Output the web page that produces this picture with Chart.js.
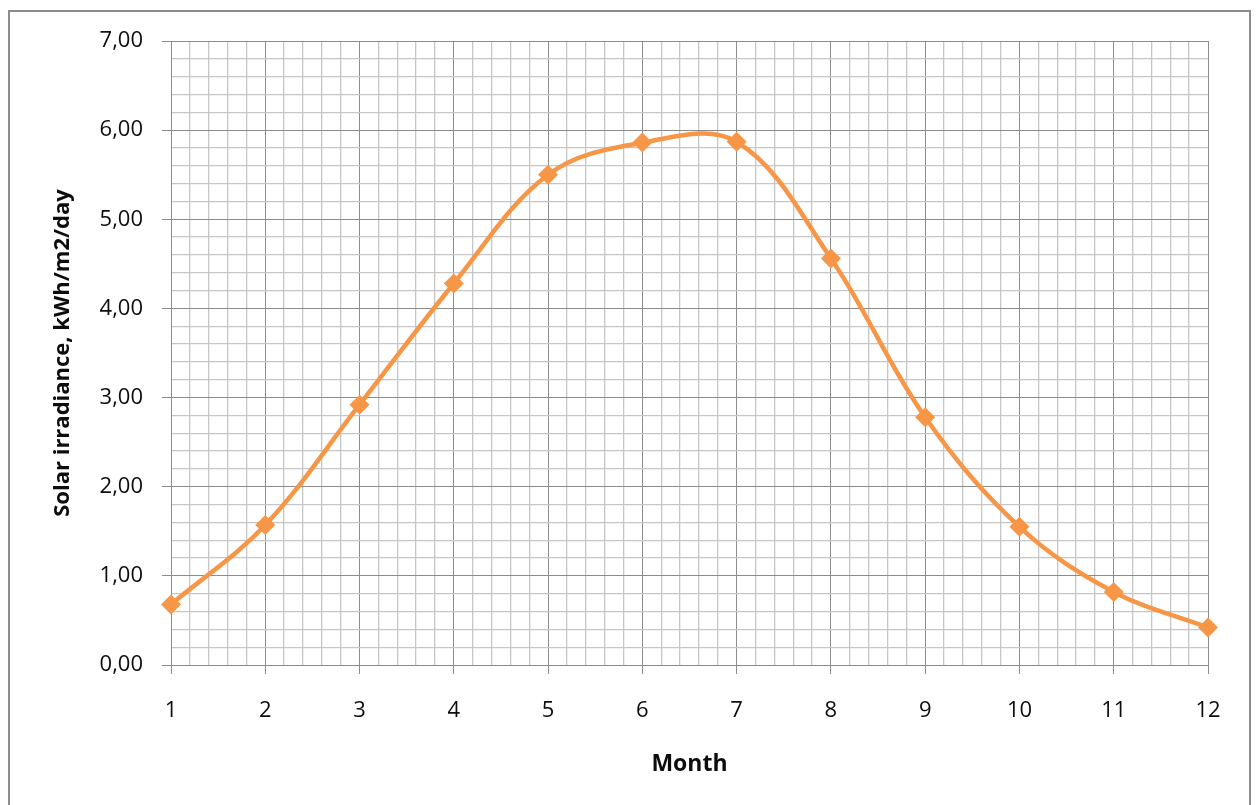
<!DOCTYPE html>
<html>
<head>
<meta charset="utf-8">
<title>Solar irradiance by month</title>
<script src="https://cdn.jsdelivr.net/npm/chart.js@4/dist/chart.umd.min.js"></script>
<style>
  html, body { margin: 0; padding: 0; background: #ffffff; overflow: hidden; }
  #wrap { position: relative; width: 1258px; height: 805px; }
  #frame { position: absolute; left: 8px; top: 10px; width: 1243px; height: 820px;
           border: 2px solid #8c8c8c; box-sizing: border-box; pointer-events: none; }
  canvas { position: absolute; left: 0; top: 0; }
</style>
</head>
<body>
<div id="wrap">
  <canvas id="chart" width="1258" height="805"></canvas>
  <div id="frame"></div>
</div>
<script>
// Monthly average solar irradiance (kWh/m2/day)
const months = [1, 2, 3, 4, 5, 6, 7, 8, 9, 10, 11, 12];
const irradiance = [0.68, 1.57, 2.92, 4.28, 5.50, 5.86, 5.87, 4.56, 2.78, 1.55, 0.82, 0.42];

// Axis settings
const xRange = [1, 12];
const yRange = [0, 7];
const minorStep = 0.2;

const FONT = "'Open Sans', 'DejaVu Sans', sans-serif";
const MAJOR = '#8c8c8c';
const MINOR = '#c6c6c6';
const LINE = '#f79646';
const TEXT = '#0d0d0d';

const isMajor = v => Math.abs(v - Math.round(v)) < 1e-6;
const gridColor = c => (c.tick && isMajor(c.tick.value)) ? MAJOR : MINOR;
const gridWidth = c => (c.tick && isMajor(c.tick.value)) ? 1 : 1.3;
const tickColor = c => (c.tick && isMajor(c.tick.value)) ? MAJOR : 'rgba(0,0,0,0)';

const points = months.map((m, i) => ({ x: m, y: irradiance[i] }));

new Chart(document.getElementById('chart'), {
  type: 'line',
  data: {
    datasets: [{
      data: points,
      borderColor: LINE,
      backgroundColor: LINE,
      borderWidth: 4.5,
      tension: 0.36,
      clip: false,
      pointStyle: 'rectRot',
      pointRadius: 10,
      pointHoverRadius: 10,
      pointBorderWidth: 0,
      pointBackgroundColor: LINE,
      fill: false
    }]
  },
  options: {
    responsive: false,
    animation: false,
    events: [],
    layout: { padding: { left: 0, top: 41, right: 50, bottom: 0 } },
    plugins: { legend: { display: false }, tooltip: { enabled: false } },
    scales: {
      x: {
        type: 'linear',
        min: xRange[0],
        max: xRange[1],
        afterFit: s => { s.height = 140; },
        grid: { color: gridColor, tickColor: tickColor, lineWidth: gridWidth, tickLength: 9, drawTicks: true },
        border: { color: MAJOR, width: 1 },
        ticks: {
          stepSize: minorStep,
          autoSkip: false,
          maxRotation: 0,
          padding: 24,
          color: TEXT,
          font: { family: FONT, size: 22 },
          callback: v => isMajor(v) ? String(Math.round(v)) : ''
        },
        title: {
          display: true,
          text: 'Month',
          color: TEXT,
          font: { family: FONT, size: 23, weight: 'bold' },
          padding: { top: 0, bottom: 27 }
        }
      },
      y: {
        type: 'linear',
        min: yRange[0],
        max: yRange[1],
        afterFit: s => { s.width = 171; },
        grid: { color: gridColor, tickColor: tickColor, lineWidth: gridWidth, tickLength: 9, drawTicks: true },
        border: { color: MAJOR, width: 1 },
        ticks: {
          stepSize: minorStep,
          autoSkip: false,
          padding: 19,
          color: TEXT,
          font: { family: FONT, size: 22 },
          callback: v => isMajor(v) ? Math.round(v).toFixed(2).replace('.', ',') : ''
        },
        title: {
          display: true,
          text: 'Solar irradiance, kWh/m2/day',
          color: TEXT,
          font: { family: FONT, size: 22, weight: 'bold' },
          padding: { top: 50, bottom: 0 }
        }
      }
    }
  }
});
</script>
</body>
</html>
